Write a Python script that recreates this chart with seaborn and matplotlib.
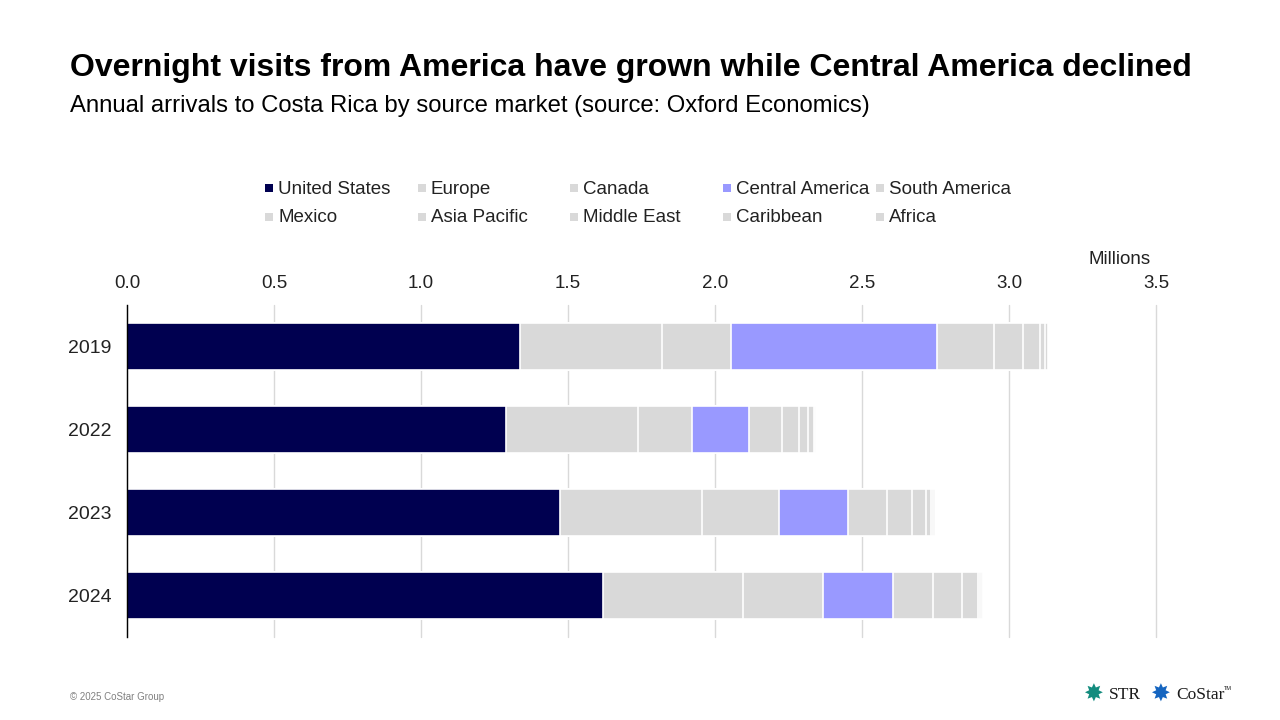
import numpy as np
import pandas as pd
import matplotlib.pyplot as plt
import seaborn as sns
from matplotlib.patches import Rectangle

years = ["2019", "2022", "2023", "2024"]
markets = ["United States", "Europe", "Canada", "Central America", "South America",
           "Mexico", "Asia Pacific", "Middle East", "Caribbean", "Africa"]

# arrivals in millions
united_states = [1.337, 1.289, 1.473, 1.620]
europe = [0.483, 0.450, 0.484, 0.476]
canada = [0.235, 0.184, 0.262, 0.273]
central_america = [0.701, 0.194, 0.234, 0.235]
south_america = [0.193, 0.112, 0.132, 0.136]
mexico = [0.099, 0.058, 0.086, 0.099]
asia_pacific = [0.057, 0.030, 0.048, 0.054]
middle_east = [0.019, 0.021, 0.017, 0.009]
caribbean = [0.007, 0.003, 0.007, 0.005]
africa = [0.003, 0.002, 0.004, 0.003]

series = [united_states, europe, canada, central_america, south_america,
          mexico, asia_pacific, middle_east, caribbean, africa]

colors = {m: "#D9D9D9" for m in markets}
colors["United States"] = "#000050"
colors["Central America"] = "#9999FF"

sns.set_style("white")
plt.rcParams["font.family"] = ["Liberation Sans", "DejaVu Sans"]

df = pd.DataFrame(np.array(series).T, columns=markets)
cum = df.cumsum(axis=1)
cum["year"] = years

W, H = 1280, 720
fig = plt.figure(figsize=(12.8, 7.2), dpi=100)
ax = fig.add_axes([127 / W, 1 - 637 / H, (1156 - 127) / W, (637 - 305) / H])

# stacked bars: draw cumulative totals from the outermost segment inward
for m in reversed(markets):
    sns.barplot(data=cum, x=m, y="year", orient="h", color=colors[m],
                saturation=1, width=0.56, edgecolor="white", linewidth=1.2, ax=ax)

ticks = np.arange(0, 3.51, 0.5)
ax.set_xlim(0, 3.5)
ax.set_ylim(3.5, -0.5)
ax.set_xticks(ticks)
ax.set_xticklabels([f"{v:.1f}" for v in ticks])
ax.xaxis.tick_top()
ax.tick_params(axis="x", length=0, labelsize=13.5, pad=9, colors="#222222")
ax.tick_params(axis="y", length=0, labelsize=14, pad=11, colors="#222222")
ax.set_xlabel("")
ax.set_ylabel("")
ax.grid(axis="x", color="#D9D9D9", linewidth=1)
for gl in ax.get_xgridlines():
    gl.set_clip_on(False)
ax.set_axisbelow(True)
for s in ["top", "right", "bottom"]:
    ax.spines[s].set_visible(False)
ax.spines["left"].set_color("#000000")
ax.spines["left"].set_linewidth(1)

fig.text(1120 / W, 1 - 259 / H, "Millions", fontsize=13.5, ha="center", va="center",
         color="#222222")

# legend laid out on a fixed grid, row by row
col_x = [265, 418, 570, 723, 876]
row_y = [189, 218]
for i, m in enumerate(markets):
    x = col_x[i % 5]
    y = row_y[i // 5]
    fig.add_artist(Rectangle((x / W, 1 - (y + 3) / H), 8 / W, 8 / H,
                             transform=fig.transFigure, facecolor=colors[m],
                             edgecolor="none"))
    fig.text((x + 13) / W, 1 - y / H, m, fontsize=13.5, va="center", color="#222222")

fig.text(70 / W, 1 - 68 / H,
         "Overnight visits from America have grown while Central America declined",
         fontsize=23, fontweight="bold", color="#000000", va="center")
fig.text(70 / W, 1 - 106 / H,
         "Annual arrivals to Costa Rica by source market (source: Oxford Economics)",
         fontsize=17.2, color="#000000", va="center")
fig.text(70 / W, 1 - 697 / H, "\u00a9 2025 CoStar Group", fontsize=7, color="#808080",
         va="center")

# logos as text
fig.text(1093 / W, 1 - 695 / H, "\u2738", fontsize=17, color="#138C7E", va="center",
         ha="center", family=["DejaVu Sans"])
fig.text(1109 / W, 1 - 695 / H, "STR", fontsize=12.5, color="#1a1a1a", va="center",
         family=["Liberation Serif"])
fig.text(1160 / W, 1 - 695 / H, "\u2738", fontsize=17, color="#1565C0", va="center",
         ha="center", family=["DejaVu Sans"])
fig.text(1176 / W, 1 - 695 / H, "CoStar", fontsize=12.5, color="#1a1a1a", va="center",
         family=["Liberation Serif"])
fig.text(1224 / W, 1 - 689 / H, "TM", fontsize=4, color="#1a1a1a", va="center",
         family=["Liberation Sans"])

fig.savefig("out.png", dpi=100)
